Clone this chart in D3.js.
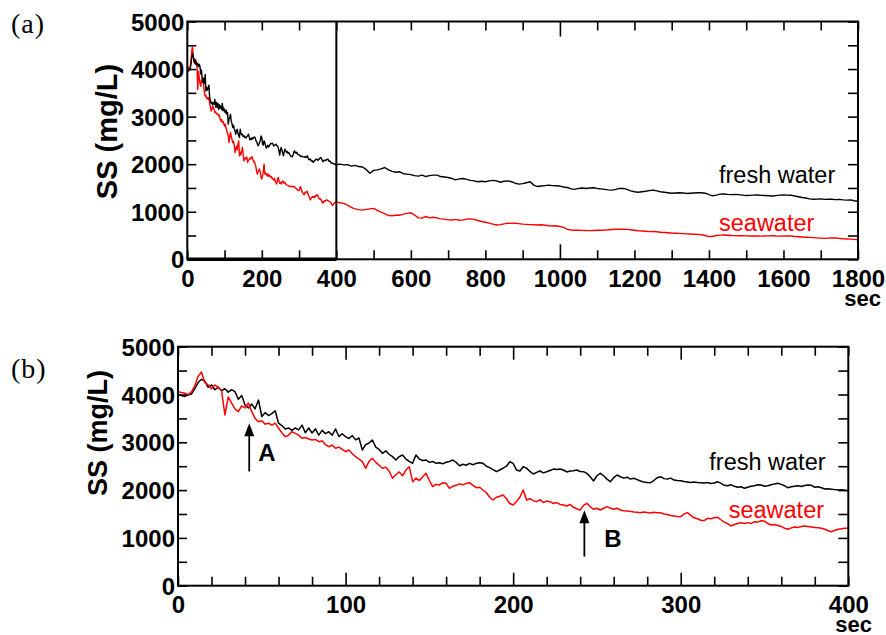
<!DOCTYPE html>
<html>
<head>
<meta charset="utf-8">
<script src="https://cdn.jsdelivr.net/npm/d3@7"></script>
<style>
body { margin: 0; background: #fff; }
svg { display: block; }
.lbl text { font-family: "Liberation Sans", Arial, sans-serif; font-weight: bold; font-size: 24px; fill: #000; }
</style>
</head>
<body>
<div id="chart"></div>
<script>
// sampling times (sec)
var timeB = d3.range(0, 401, 2);
var timeTail = d3.range(410, 1801, 10);

// SS (mg/L), 0-400 s every 2 s
var freshB = [
    3990, 3980, 3960, 3990, 4010, 4120, 4250, 4318, 4280, 4150,
    4200, 4100, 4150, 4080, 4120, 4050, 4100, 4060, 3900, 3980,
    3780, 3720, 3800, 3700, 3885, 3540, 3620, 3560, 3600, 3660,
    3400, 3350, 3280, 3300, 3250, 3300, 3260, 3360, 3200, 3300,
    3195, 3280, 3150, 3250, 3180, 3222, 3150, 3278, 3120, 3180,
    3117, 3080, 3140, 3050, 3090, 2839, 2950, 2985, 3048, 2900,
    2850, 2770, 2820, 2750, 2700, 2630, 2700, 2734, 2650, 2600,
    2561, 2734, 2650, 2620, 2630, 2580, 2600, 2560, 2573, 2550,
    2582, 2600, 2630, 2580, 2510, 2540, 2520, 2560, 2530, 2560,
    2573, 2560, 2500, 2470, 2430, 2385, 2420, 2460, 2500, 2594,
    2560, 2420, 2400, 2490, 2460, 2390, 2337, 2370, 2400, 2360,
    2385, 2410, 2440, 2430, 2441, 2420, 2380, 2400, 2406, 2420,
    2390, 2385, 2350, 2280, 2190, 2300, 2351, 2300, 2230, 2176,
    2260, 2316, 2280, 2250, 2270, 2230, 2247, 2220, 2190, 2170,
    2160, 2155, 2200, 2260, 2280, 2240, 2230, 2250, 2210, 2200,
    2197, 2180, 2170, 2160, 2170, 2160, 2155, 2150, 2160, 2140,
    2150, 2176, 2140, 2100, 2092, 2110, 2080, 2060, 2070, 2038,
    2060, 2080, 2090, 2110, 2107, 2080, 2090, 2110, 2130, 2142,
    2120, 2090, 2050, 2070, 2080, 2090, 2075, 2095, 2107, 2100,
    2060, 2070, 2050, 2023, 2030, 2020, 2010, 2000, 2005, 1995,
    1987
];
var seaB = [
    4060, 4040, 4030, 4000, 4050, 4180, 4380, 4470, 4250, 4200,
    4120, 4200, 4150, 4080, 3571, 3950, 3820, 3700, 3640, 3760,
    3718, 3822, 3640, 3500, 3431, 3450, 3380, 3400, 3360, 3400,
    3293, 3200, 3117, 3150, 3220, 3188, 3150, 3084, 3100, 3070,
    3048, 3060, 3013, 3030, 2950, 2908, 2940, 2874, 2900, 2850,
    2803, 2840, 2760, 2699, 2650, 2594, 2456, 2600, 2665, 2580,
    2520, 2456, 2480, 2400, 2247, 2320, 2380, 2300, 2420, 2490,
    2176, 2250, 2200, 2280, 2351, 2200, 2071, 2120, 2107, 2150,
    2142, 2038, 2080, 2100, 2130, 2110, 2140, 2155, 2100, 2050,
    2060, 2002, 1950, 1850, 1793, 1850, 1870, 1898, 1820, 1720,
    1688, 1760, 1850, 2002, 1793, 1820, 1780, 1758, 1800, 1740,
    1770, 1758, 1720, 1740, 1700, 1690, 1667, 1700, 1640, 1610,
    1584, 1680, 1723, 1650, 1600, 1620, 1584, 1620, 1653, 1620,
    1600, 1620, 1584, 1570, 1560, 1555, 1540, 1535, 1528, 1540,
    1530, 1520, 1535, 1528, 1528, 1500, 1490, 1470, 1460, 1450,
    1444, 1500, 1528, 1470, 1420, 1400, 1370, 1360, 1410, 1400,
    1420, 1430, 1380, 1330, 1300, 1249, 1280, 1300, 1318, 1300,
    1320, 1300, 1340, 1330, 1360, 1350, 1300, 1270, 1280, 1260,
    1240, 1200, 1180, 1210, 1230, 1220, 1240, 1249, 1240, 1230,
    1220, 1210, 1200, 1180, 1150, 1130, 1160, 1180, 1190, 1200,
    1201
];

// SS (mg/L), 410-1800 s every 10 s
var freshTail = [
    2000, 1985, 1990, 1960, 1975, 1950, 1940, 1890, 1810, 1870,
    1880, 1900, 1930, 1880, 1850, 1830, 1840, 1800, 1790, 1780,
    1760, 1750, 1770, 1740, 1760, 1770, 1770, 1740, 1730, 1720,
    1700, 1670, 1690, 1700, 1680, 1660, 1650, 1630, 1640, 1630,
    1650, 1660, 1650, 1620, 1640, 1650, 1630, 1600, 1580, 1590,
    1610, 1630, 1560, 1530, 1540, 1550, 1560, 1550, 1545, 1540,
    1520, 1510, 1480, 1470, 1490, 1500, 1490, 1500, 1505, 1490,
    1480, 1470, 1460, 1455, 1470, 1490, 1490, 1470, 1440, 1420,
    1410, 1420, 1430, 1445, 1455, 1440, 1420, 1410, 1400, 1390,
    1395, 1400, 1395, 1385, 1390, 1395, 1400, 1400, 1390, 1360,
    1335, 1350, 1370, 1372, 1365, 1360, 1365, 1360, 1350, 1340,
    1345, 1350, 1352, 1345, 1340, 1335, 1330, 1340, 1350, 1355,
    1350, 1348, 1330, 1315, 1300, 1290, 1270, 1262, 1265, 1270,
    1260, 1265, 1262, 1255, 1260, 1250, 1245, 1250, 1230, 1215
];
var seaTail = [
    1190, 1175, 1140, 1090, 1060, 1045, 1035, 1050, 1060, 1070,
    1030, 990, 960, 920, 915, 930, 925, 950, 965, 980,
    930, 870, 865, 900, 870, 883, 870, 850, 845, 830,
    826, 840, 820, 830, 845, 850, 840, 815, 795, 780,
    760, 740, 721, 730, 745, 760, 755, 757, 750, 740,
    735, 730, 725, 720, 725, 715, 705, 700, 705, 690,
    670, 630, 615, 612, 610, 608, 604, 602, 605, 610,
    612, 615, 620, 628, 632, 631, 631, 630, 620, 610,
    600, 595, 590, 581, 585, 578, 570, 565, 558, 552,
    548, 545, 540, 535, 532, 528, 525, 515, 500, 478,
    485, 500, 508, 511, 505, 500, 498, 495, 495, 492,
    490, 492, 490, 488, 490, 492, 495, 490, 488, 490,
    492, 490, 480, 475, 470, 465, 460, 455, 450, 445,
    441, 445, 450, 448, 440, 432, 428, 425, 420, 410
];

var yTicks = [0, 1000, 2000, 3000, 4000, 5000];
var xTicksA = [0, 200, 400, 600, 800, 1000, 1200, 1400, 1600, 1800];
var xTicksB = [0, 100, 200, 300, 400];

// arrows in panel (b)
var arrowNames = ["A", "B"];
var arrowTimes = [42.5, 242.5];
var arrowTip = [3400, 1580];
var arrowBase = [2390, 610];

var W = 886, H = 635;
var svg = d3.select("#chart").append("svg")
    .attr("width", W)
    .attr("height", H);

function drawPanel(cfg) {
    var x = d3.scaleLinear().domain([0, cfg.xMax]).range([cfg.left, cfg.right]);
    var y = d3.scaleLinear().domain([0, 5000]).range([cfg.bottom, cfg.top]);
    var g = svg.append("g");

    var minorX = d3.range(0, cfg.xMax + 1, cfg.xMinor).filter(function(v) { return cfg.xMajor.indexOf(v) < 0; });
    var minorY = d3.range(0, 5001, 500);

    function tickStyle(sel) {
        sel.select(".domain").remove();
        sel.selectAll("line").attr("stroke", "#000").attr("stroke-width", 1.6);
    }

    g.append("g").attr("transform", "translate(0," + cfg.bottom + ")")
        .call(d3.axisBottom(x).tickValues(minorX).tickSize(-9).tickFormat(""))
        .call(tickStyle);
    g.append("g").attr("transform", "translate(0," + cfg.bottom + ")")
        .call(d3.axisBottom(x).tickValues(cfg.xMajor).tickSize(-cfg.majorLen).tickFormat(""))
        .call(tickStyle);
    g.append("g").attr("transform", "translate(0," + cfg.top + ")")
        .call(d3.axisTop(x).tickValues(minorX).tickSize(-9).tickFormat(""))
        .call(tickStyle);
    g.append("g").attr("transform", "translate(0," + cfg.top + ")")
        .call(d3.axisTop(x).tickValues(cfg.xMajor).tickSize(-cfg.majorLen).tickFormat(""))
        .call(tickStyle);
    g.append("g").attr("transform", "translate(" + cfg.left + ",0)")
        .call(d3.axisLeft(y).tickValues(minorY).tickSize(-9).tickFormat(""))
        .call(tickStyle);
    g.append("g").attr("transform", "translate(" + cfg.right + ",0)")
        .call(d3.axisRight(y).tickValues(minorY).tickSize(-10).tickFormat(""))
        .call(tickStyle);

    // tick labels
    var xl = g.append("g").attr("class", "lbl").attr("transform", "translate(0," + cfg.bottom + ")")
        .call(d3.axisBottom(x).tickValues(cfg.xLabels).tickSize(0).tickFormat(d3.format("d")));
    xl.select(".domain").remove();
    xl.selectAll("text").attr("y", cfg.xLabelY).attr("dy", null);

    var yl = g.append("g").attr("class", "lbl").attr("transform", "translate(" + cfg.left + ",0)")
        .call(d3.axisLeft(y).tickValues(yTicks).tickSize(0).tickPadding(3).tickFormat(d3.format("d")));
    yl.select(".domain").remove();
    yl.selectAll("text").attr("dy", "0.36em");

    var line = d3.line()
        .x(function(d) { return x(d[0]); })
        .y(function(d) { return y(d[1]); });

    cfg.series.forEach(function(s) {
        g.append("path")
            .datum(d3.zip(s.t, s.v))
            .attr("d", line)
            .attr("fill", "none")
            .attr("stroke", s.color)
            .attr("stroke-width", cfg.lineWidth)
            .attr("stroke-linejoin", "round");
    });

    // frame
    g.append("rect")
        .attr("x", cfg.left).attr("y", cfg.top)
        .attr("width", cfg.right - cfg.left).attr("height", cfg.bottom - cfg.top)
        .attr("fill", "none").attr("stroke", "#000").attr("stroke-width", 2);

    g.append("text")
        .attr("transform", "translate(" + cfg.yTitleX + "," + cfg.yTitleY + ") rotate(-90)")
        .attr("text-anchor", "middle")
        .style("font-family", "'Liberation Sans', Arial, sans-serif")
        .style("font-weight", "bold")
        .style("font-size", cfg.yTitleSize + "px")
        .text("SS (mg/L)");

    g.append("text")
        .attr("x", cfg.secX).attr("y", cfg.secY)
        .attr("text-anchor", "end")
        .style("font-family", "'Liberation Sans', Arial, sans-serif")
        .style("font-weight", "bold")
        .style("font-size", "22px")
        .text("sec");

    g.append("text")
        .attr("x", 11).attr("y", cfg.tagY)
        .style("font-family", "'Liberation Serif', serif")
        .style("font-size", "28px")
        .style("letter-spacing", "1px")
        .text(cfg.tag);

    cfg.names.forEach(function(n) {
        g.append("text")
            .attr("x", n.x).attr("y", n.y)
            .style("font-family", "'Liberation Sans', Arial, sans-serif")
            .style("font-size", "23.5px")
            .style("fill", n.color)
            .text(n.text);
    });

    return {x: x, y: y, g: g};
}

var pa = drawPanel({
    xMax: 1800, xMinor: 100, xMajor: [1000], majorLen: 15,
    left: 187.3, right: 858, top: 21.5, bottom: 259.3,
    xLabels: xTicksA, xLabelY: 28, lineWidth: 1.4,
    series: [
        {t: timeB.concat(timeTail), v: seaB.concat(seaTail), color: "#ff0000"},
        {t: timeB.concat(timeTail), v: freshB.concat(freshTail), color: "#000000"}
    ],
    yTitleX: 117, yTitleY: 131.5, yTitleSize: 29,
    secX: 881, secY: 306, tag: "(a)", tagY: 33,
    names: [
        {text: "fresh water", x: 719, y: 183.3, color: "#000"},
        {text: "seawater", x: 719, y: 230.7, color: "#ff0000"}
    ]
});

// highlighted 0-400 s window in (a)
pa.g.append("line")
    .attr("x1", pa.x(400)).attr("x2", pa.x(400))
    .attr("y1", pa.y(5000)).attr("y2", pa.y(0))
    .attr("stroke", "#000").attr("stroke-width", 2);
pa.g.append("line")
    .attr("x1", pa.x(0)).attr("x2", pa.x(400))
    .attr("y1", pa.y(0)).attr("y2", pa.y(0))
    .attr("stroke", "#000").attr("stroke-width", 3.5);

var pb = drawPanel({
    xMax: 400, xMinor: 20, xMajor: [100, 200, 300], majorLen: 13,
    left: 178, right: 848.3, top: 346.7, bottom: 585.7,
    xLabels: xTicksB, xLabelY: 27.6, lineWidth: 1.5,
    series: [
        {t: timeB, v: freshB, color: "#000000"},
        {t: timeB, v: seaB, color: "#ff0000"}
    ],
    yTitleX: 107, yTitleY: 433, yTitleSize: 27,
    secX: 872, secY: 631.5, tag: "(b)", tagY: 377.5,
    names: [
        {text: "fresh water", x: 709.3, y: 470, color: "#000"},
        {text: "seawater", x: 728.7, y: 518.3, color: "#ff0000"}
    ]
});

var labelDx = [9, 20];
arrowNames.forEach(function(name, i) {
    var ax = pb.x(arrowTimes[i]), tip = pb.y(arrowTip[i]), base = pb.y(arrowBase[i]);
    pb.g.append("line")
        .attr("x1", ax).attr("x2", ax)
        .attr("y1", tip + 10).attr("y2", base)
        .attr("stroke", "#000").attr("stroke-width", 1.8);
    pb.g.append("path")
        .attr("d", "M" + ax + "," + tip + "L" + (ax - 5) + "," + (tip + 13) + "L" + (ax + 5) + "," + (tip + 13) + "Z")
        .attr("fill", "#000");
    pb.g.append("text")
        .attr("x", ax + labelDx[i]).attr("y", base - 10)
        .style("font-family", "'Liberation Sans', Arial, sans-serif")
        .style("font-weight", "bold")
        .style("font-size", "24px")
        .text(name);
});
</script>
</body>
</html>
